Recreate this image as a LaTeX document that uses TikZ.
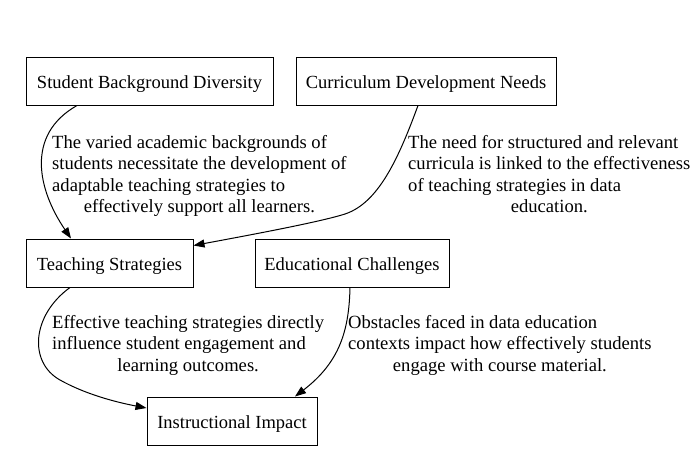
\documentclass[tikz,border=0pt]{standalone}
\usepackage{fontspec}
\setmainfont{Liberation Serif}
\usetikzlibrary{arrows.meta}
\newcommand{\centredline}[1]{\multicolumn{1}{@{}c@{}}{#1}}
\begin{document}
\begin{tikzpicture}[x=1pt,y=-1pt,
  box/.style={draw,line width=1pt,rectangle,inner sep=0pt,minimum height=48pt,
    text height=17pt,text depth=2pt,font=\fontsize{18.5}{21.3}\selectfont},
  lbl/.style={inner sep=0pt,anchor=base west,font=\fontsize{18.6}{21.3}\selectfont},
  edge/.style={line width=1pt,-{Triangle[length=11pt,width=8pt]}}]
\useasboundingbox[fill=white] (0,0) rectangle (691,472);

% concepts
\node[box,minimum width=247pt] (sbd) at (149.5,81) {Student Background Diversity};
\node[box,minimum width=260pt] (cdn) at (426,81) {Curriculum Development Needs};
\node[box,minimum width=167pt] (ts) at (109.5,263) {Teaching Strategies};
\node[box,minimum width=194pt] (ec) at (352,263) {Educational Challenges};
\node[box,minimum width=170pt] (ii) at (232,421) {Instructional Impact};

% relations
\draw[edge] ([xshift=-72.5pt]sbd.south) .. controls (25,135) and (38,190) .. ([xshift=-38.5pt]ts.north);
\draw[edge] ([xshift=-8pt]cdn.south) .. controls (398,160) and (378,203) .. (345,214)
  .. controls (320,222) and (250,235) .. ([yshift=-7pt]ts.north east);
\draw[edge] ([xshift=-39.5pt]ts.south) .. controls (32,315) and (28,362) .. (60,380)
  .. controls (85,394) and (115,402) .. ([yshift=13pt]ii.west);
\draw[edge] ([xshift=-2pt]ec.south) .. controls (349,330) and (340,362) .. ([xshift=63pt]ii.north);

% relation labels
\node[lbl] (l1) at (52,148.5) {\begin{tabular}[t]{@{}l@{}}The varied academic backgrounds of\\
  students necessitate the development of\\ adaptable teaching strategies to\\
  \centredline{effectively support all learners.}\end{tabular}};
\node[lbl] (l2) at (408,148.5) {\begin{tabular}[t]{@{}l@{}}The need for structured and relevant\\
  curricula is linked to the effectiveness\\ of teaching strategies in data\\
  \centredline{education.}\end{tabular}};
\node[lbl] (l3) at (52,328.5) {\begin{tabular}[t]{@{}l@{}}Effective teaching strategies directly\\
  influence student engagement and\\ \centredline{learning outcomes.}\end{tabular}};
\node[lbl] (l4) at (348,328.5) {\begin{tabular}[t]{@{}l@{}}Obstacles faced in data education\\
  contexts impact how effectively students\\ \centredline{engage with course material.}\end{tabular}};
\end{tikzpicture}
\end{document}
